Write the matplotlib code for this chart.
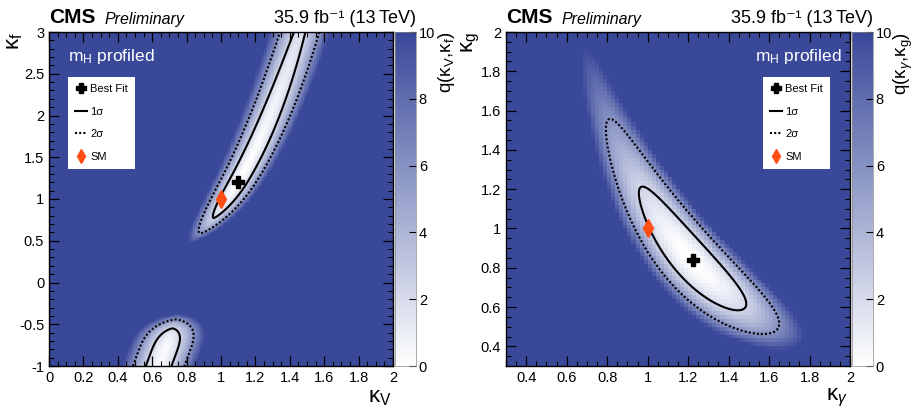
import numpy as np
import matplotlib
matplotlib.use("Agg")
import matplotlib.pyplot as plt
from matplotlib.colors import LinearSegmentedColormap, Normalize
from matplotlib.lines import Line2D
from matplotlib.ticker import MultipleLocator

plt.rcParams["font.family"] = ["Liberation Sans", "DejaVu Sans"]
plt.rcParams["mathtext.fontset"] = "custom"
plt.rcParams["mathtext.rm"] = "Liberation Sans"
plt.rcParams["mathtext.it"] = "Liberation Sans:italic"

# ---- kappa_V vs kappa_f scan ------------------------------------------------
KV_LIM = (0.0, 2.0)
KF_LIM = (-1.0, 3.0)
BEST_FIT_VF = (1.097, 1.20)
SM_VF = (1.0, 1.0)
# positive-kf valley: kV ~ r0 * kf**pow, asymmetric profile in ln(kf)
VF_POW = 0.31
VF_RATIO_SIG = 0.0304
VF_CROSS_POW = 1.5
VF_LNKF_SIG_DOWN = 0.292
VF_LNKF_SIG_UP = 0.72
# negative-kf valley (tilted, steep towards kf = 0)
VF_LOW_CENTER = (0.654, -0.908)
VF_LOW_QMIN = 0.3
VF_LOW_TILT = 0.18
VF_LOW_WIDTH = 0.047
VF_LOW_LENGTH = 0.301

# ---- kappa_gamma vs kappa_g scan ---------------------------------------------
KGAM_LIM = (0.3, 2.0)
KG_LIM = (0.3, 2.0)
BEST_FIT_GG = (1.222, 0.837)
SM_GG = (1.0, 1.0)
GG_PROD_SIG = 0.11      # spread of kgamma*kg around the valley
GG_KGAM_SIG = 0.175     # spread along the valley
GG_VALLEY_TILT = -0.40

Q_MAX = 10.0
LEVEL_1SIG = 2.30
LEVEL_2SIG = 5.99

CMAP = LinearSegmentedColormap.from_list(
    "wb", [(1.0, 1.0, 1.0), (0.60, 0.64, 0.80), (0.227, 0.282, 0.604)], N=256)
SM_COLOR = "#ff4e14"
LUMI_TEXT = "35.9 fb⁻¹ (13\u2009TeV)"


def q_vf(kv, kf):
    with np.errstate(divide="ignore", invalid="ignore"):
        pos = np.where(kf > 0, kf, np.nan)
        r0 = BEST_FIT_VF[0] / BEST_FIT_VF[1] ** VF_POW
        u = kv / pos ** VF_POW
        s = np.log(pos) - np.log(BEST_FIT_VF[1])
        along = np.where(s < 0, (s / VF_LNKF_SIG_DOWN) ** 2, (s / VF_LNKF_SIG_UP) ** 2)
        q_main = np.abs((u - r0) / VF_RATIO_SIG) ** VF_CROSS_POW + along
    q_main = np.nan_to_num(q_main, nan=np.inf)
    dkf = kf - VF_LOW_CENTER[1]
    d = kv - (VF_LOW_CENTER[0] + VF_LOW_TILT * dkf)
    q_low = VF_LOW_QMIN + np.abs(d / VF_LOW_WIDTH) ** VF_CROSS_POW + (dkf / VF_LOW_LENGTH) ** 4
    return np.minimum(q_main, q_low)


def q_gg(kgam, kg):
    dg = kgam - BEST_FIT_GG[0]
    prod = kgam * kg - BEST_FIT_GG[0] * BEST_FIT_GG[1] - GG_VALLEY_TILT * dg
    return (prod / GG_PROD_SIG) ** 2 + (dg / GG_KGAM_SIG) ** 2


def draw_panel(fig, rect, crect, qfunc, xlim, ylim, nbins, best, sm,
               xlabel, ylabel, zlabel, xmajor, xminor, ymajor, yminor,
               tag_right, leg_anchor):
    ax = fig.add_axes(rect)
    cax = fig.add_axes(crect)

    xe = np.linspace(*xlim, nbins[0] + 1)
    ye = np.linspace(*ylim, nbins[1] + 1)
    xc = 0.5 * (xe[1:] + xe[:-1])
    yc = 0.5 * (ye[1:] + ye[:-1])
    X, Y = np.meshgrid(xc, yc)
    Z = np.clip(qfunc(X, Y), 0, Q_MAX)
    norm = Normalize(0, Q_MAX)
    mesh = ax.pcolormesh(xe, ye, Z, cmap=CMAP, norm=norm, shading="flat", rasterized=True)

    xf = np.linspace(*xlim, 500)
    yf = np.linspace(*ylim, 500)
    XF, YF = np.meshgrid(xf, yf)
    ZF = qfunc(XF, YF)
    ax.contour(XF, YF, ZF, levels=[LEVEL_1SIG], colors="black", linewidths=1.5)
    ax.contour(XF, YF, ZF, levels=[LEVEL_2SIG], colors="black", linewidths=1.5,
               linestyles=[(0, (1, 1))])

    ax.plot(*best, marker="P", color="black", markersize=9, linestyle="none")
    ax.plot(*sm, marker="d", color=SM_COLOR, markersize=9, linestyle="none")

    ax.set_xlim(*xlim)
    ax.set_ylim(*ylim)
    ax.xaxis.set_major_locator(MultipleLocator(xmajor))
    ax.xaxis.set_minor_locator(MultipleLocator(xminor))
    ax.yaxis.set_major_locator(MultipleLocator(ymajor))
    ax.yaxis.set_minor_locator(MultipleLocator(yminor))
    ax.tick_params(which="both", direction="in", top=True, right=True, labelsize=10.5)
    ax.tick_params(which="major", length=7, width=0.9)
    ax.tick_params(which="minor", length=3.5, width=0.8)
    ax.xaxis.set_major_formatter(lambda v, p: f"{v:g}")
    ax.yaxis.set_major_formatter(lambda v, p: f"{v:g}")
    for sp in ax.spines.values():
        sp.set_linewidth(1.0)

    ax.set_xlabel(xlabel, loc="right", fontsize=16)
    ax.xaxis.set_label_coords(0.995, -0.062)
    ax.set_ylabel(ylabel, loc="top", fontsize=16)
    ax.yaxis.set_label_coords(-0.07, 1.0)

    ax.text(0.0, 1.015, "CMS", transform=ax.transAxes, fontsize=15, fontweight="bold",
            ha="left", va="bottom")
    ax.text(0.16, 1.015, "Preliminary", transform=ax.transAxes, fontsize=11.5,
            style="italic", ha="left", va="bottom")
    ax.text(1.0, 1.015, LUMI_TEXT, transform=cax.transAxes,
            fontsize=13, ha="right", va="bottom")

    if tag_right:
        ax.text(0.975, 0.955, "m$_\\mathrm{H}$ profiled", transform=ax.transAxes,
                color="white", fontsize=12.5, ha="right", va="top")
    else:
        ax.text(0.055, 0.955, "m$_\\mathrm{H}$ profiled", transform=ax.transAxes,
                color="white", fontsize=12.5, ha="left", va="top")

    handles = [
        Line2D([], [], marker="P", color="black", markersize=7, linestyle="none"),
        Line2D([], [], color="black", linewidth=1.5),
        Line2D([], [], color="black", linewidth=1.5, linestyle=(0, (1, 1))),
        Line2D([], [], marker="d", color=SM_COLOR, markersize=7, linestyle="none"),
    ]
    leg = ax.legend(handles, ["Best Fit", "1σ", "2σ", "SM"], loc="upper left",
                    bbox_to_anchor=leg_anchor, fontsize=8, frameon=True,
                    fancybox=False, framealpha=1.0, edgecolor="white",
                    handlelength=1.1, handletextpad=0.3, labelspacing=1.15,
                    borderpad=0.6, borderaxespad=0.0)
    leg.get_frame().set_linewidth(0)

    cb = fig.colorbar(mesh, cax=cax, ticks=np.arange(0, 11, 2))
    cb.outline.set_linewidth(0.5)
    cb.outline.set_edgecolor("#888888")
    cax.tick_params(direction="in", length=5, width=0.8, labelsize=10.5, pad=2)
    cax.text(2.45, 1.0, zlabel, transform=cax.transAxes, rotation=90,
             fontsize=13.5, ha="center", va="top")
    return ax


fig = plt.figure(figsize=(9.14, 4.08), dpi=100)

draw_panel(fig, [49 / 914, 42 / 408, 344 / 914, 334 / 408],
           [395 / 914, 42 / 408, 21 / 914, 334 / 408],
           q_vf, KV_LIM, KF_LIM, (200, 400), BEST_FIT_VF, SM_VF,
           "κ$_\\mathrm{V}$", "κ$_\\mathrm{f}$",
           "q(κ$_\\mathrm{V}$,κ$_\\mathrm{f}$)",
           0.2, 0.05, 0.5, 0.1, False, (0.055, 0.865))

draw_panel(fig, [506 / 914, 42 / 408, 344 / 914, 334 / 408],
           [852 / 914, 42 / 408, 21 / 914, 334 / 408],
           q_gg, KGAM_LIM, KG_LIM, (85, 85), BEST_FIT_GG, SM_GG,
           "κ$_{\\gamma}$", "κ$_\\mathrm{g}$",
           "q(κ$_{\\gamma}$,κ$_\\mathrm{g}$)",
           0.2, 0.05, 0.2, 0.05, True, (0.747, 0.865))

fig.savefig("out.png", dpi=100)
